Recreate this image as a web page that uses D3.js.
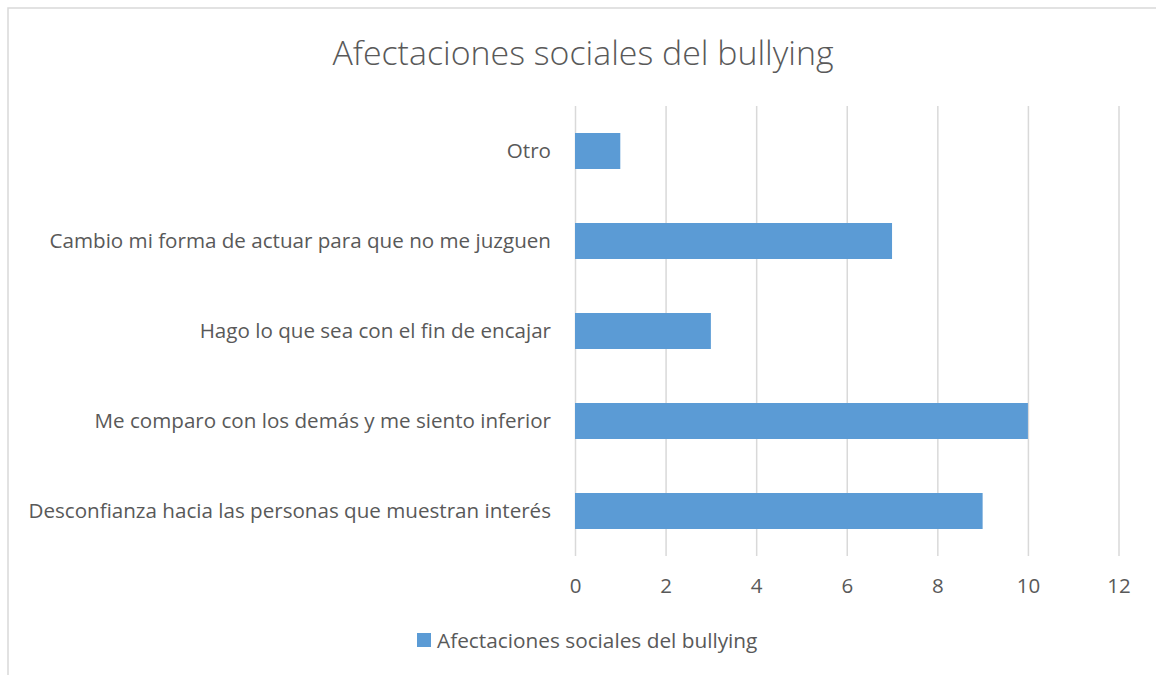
<!DOCTYPE html>
<html><head><meta charset="utf-8">
<script src="https://cdn.jsdelivr.net/npm/d3@7"></script>
<style>html,body{margin:0;padding:0;background:#fff;}</style>
</head><body>
<svg id="c" width="1156" height="675"></svg>
<script>
const categories = ["Otro","Cambio mi forma de actuar para que no me juzguen","Hago lo que sea con el fin de encajar","Me comparo con los demás y me siento inferior","Desconfianza hacia las personas que muestran interés"];
const values = [1,7,3,10,9];
const xTicks = [0,2,4,6,8,10,12];
const seriesName = "Afectaciones sociales del bullying";
const title = "Afectaciones sociales del bullying";

const svg = d3.select("#c");
const font = "'Open Sans', sans-serif";
const textColor = "#595959";

svg.append("rect").attr("x",8).attr("y",8).attr("width",1160).attr("height",700)
  .attr("fill","#fff").attr("stroke","#d9d9d9").attr("stroke-width",1.5);

const x = d3.scaleLinear().domain([0,12]).range([575,1118.5]);
const y = d3.scaleBand().domain(categories).range([106,556]).paddingInner(0.6).paddingOuter(0.3);

svg.append("text").attr("x",583).attr("y",65).attr("text-anchor","middle")
  .attr("font-family",font).attr("font-weight",300).attr("font-size",33.9).attr("fill",textColor).text(title);

const gx = svg.append("g").attr("transform","translate(0,556)")
  .call(d3.axisBottom(x).tickValues(xTicks).tickSize(-450).tickPadding(22));
gx.select(".domain").remove();
gx.selectAll(".tick line").attr("stroke","#d9d9d9").attr("stroke-width",1.5);
gx.selectAll(".tick text").attr("font-family",font).attr("font-size",20.5).attr("fill",textColor);

svg.selectAll("rect.bar").data(categories).enter().append("rect").attr("class","bar")
  .attr("x",x(0)).attr("y",d=>y(d)).attr("height",y.bandwidth())
  .attr("width",(d,i)=>x(values[i])-x(0)).attr("fill","#5b9bd5");

const gy = svg.append("g").attr("transform","translate(575,0)")
  .call(d3.axisLeft(y).tickSize(0).tickPadding(24));
gy.select(".domain").remove();
gy.selectAll(".tick text").attr("font-family",font).attr("font-size",20.6).attr("fill",textColor);

const leg = svg.append("g");
leg.append("rect").attr("x",417).attr("y",633).attr("width",14).attr("height",14).attr("fill","#5b9bd5");
leg.append("text").attr("x",437).attr("y",648).attr("font-family",font).attr("font-size",20.8).attr("fill",textColor).text(seriesName);
</script>
</body></html>
